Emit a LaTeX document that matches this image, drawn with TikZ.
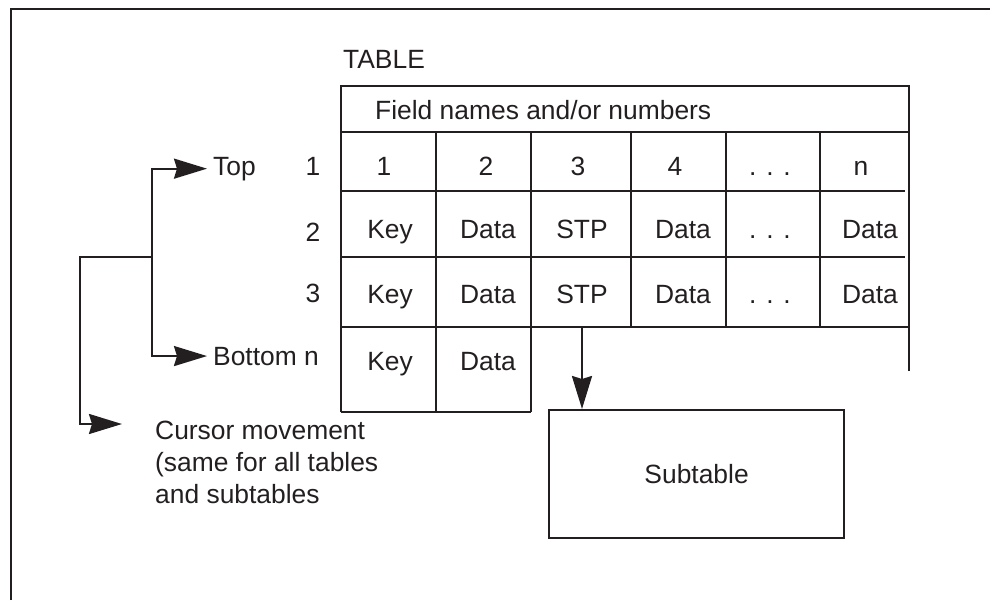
\documentclass[tikz,border=0pt]{standalone}
\usepackage{fontspec}
\setmainfont{Liberation Sans}
\usetikzlibrary{arrows.meta}
\definecolor{ink}{HTML}{231F20}
\begin{document}
\begin{tikzpicture}[x=1pt,y=-1pt,
  ln/.style={line width=2.2pt, draw=ink},
  framel/.style={line width=1.6pt, draw=ink},
  lbl/.style={font=\fontsize{26.4}{32}\selectfont, inner sep=0pt, text=ink, anchor=base},
  lblw/.style={lbl, anchor=base west},
  arr/.style={ln, -{Stealth[length=33pt,width=20pt,inset=3pt]}}]
\useasboundingbox (0,0) rectangle (990,600);
% frame
\draw[framel] (11,600) -- (11,9) -- (990,9);
% title
\node[lblw] (title) at (343,68) {TABLE};
% table grid
\draw[ln] (341,412) -- (341,86) -- (909,86) -- (909,371);
\draw[ln] (341,132) -- (909,132);
\draw[ln] (341,191) -- (905,191);
\draw[ln] (341,257) -- (905,257);
\draw[ln] (341,327) -- (909,327);
\draw[ln] (341,412) -- (531,412);
\draw[ln] (436,132) -- (436,412);
\draw[ln] (531,132) -- (531,412);
\draw[ln] (631,132) -- (631,327);
\draw[ln] (726,132) -- (726,327);
\draw[ln] (820,132) -- (820,327);
% header
\node[lblw] (hdr) at (375,119) {Field names and/or numbers};
% row 1
\node[lbl] (c11) at (384,175) {1};
\node[lbl] (c12) at (486,175) {2};
\node[lbl] (c13) at (578,175) {3};
\node[lbl] (c14) at (675,175) {4};
\node[lbl] (c15) at (770,175) {. . .};
\node[lbl] (c16) at (861,175) {n};
% row 2
\node[lbl] (c21) at (390,238) {Key};
\node[lbl] (c22) at (488,238) {Data};
\node[lbl] (c23) at (582,238) {STP};
\node[lbl] (c24) at (683,238) {Data};
\node[lbl] (c25) at (770,238) {. . .};
\node[lbl] (c26) at (870,238) {Data};
% row 3
\node[lbl] (c31) at (390,303) {Key};
\node[lbl] (c32) at (488,303) {Data};
\node[lbl] (c33) at (582,303) {STP};
\node[lbl] (c34) at (683,303) {Data};
\node[lbl] (c35) at (770,303) {. . .};
\node[lbl] (c36) at (870,303) {Data};
% row n
\node[lbl] (cn1) at (390,370) {Key};
\node[lbl] (cn2) at (488,370) {Data};
% row labels
\node[lbl] (r1) at (313,175) {1};
\node[lbl] (r2) at (313,241) {2};
\node[lbl] (r3) at (313,302) {3};
\node[lblw] (top) at (213,175) {Top};
\node[lblw] (bottom) at (213,365) {Bottom n};
% subtable
\node[ln, draw, minimum width=295pt, minimum height=128pt, anchor=north west,
      font=\fontsize{26.4}{32}\selectfont, text=ink] (sub) at (548,409) {Subtable};
\coordinate (stpbot) at (582,327);
\draw[arr] (stpbot) -- (stpbot |- sub.north);
% cursor movement
\node[lbl, anchor=base west, align=left] (cursor) at (155,503)
  {Cursor movement\\(same for all tables\\and subtables};
\coordinate (j1) at (152,257);
\coordinate (ctip) at (122,424);
\draw[arr, shorten >=6pt] (j1) |- (top.west);
\draw[arr, shorten >=6pt] (j1) |- (bottom.west);
\draw[arr] (j1) -- (80,257) |- (ctip);
\end{tikzpicture}
\end{document}
